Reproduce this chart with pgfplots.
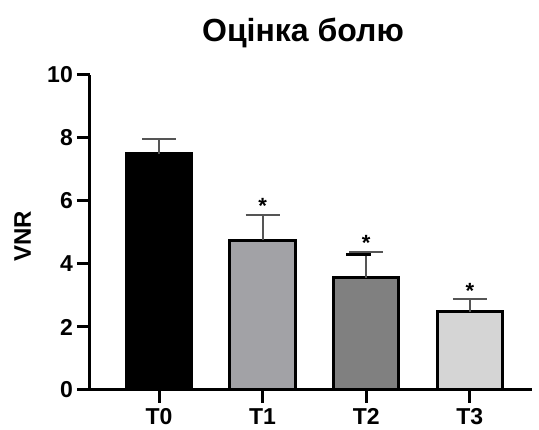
\documentclass[border=0pt]{standalone}
\usepackage{pgfplots}
\pgfplotsset{compat=1.18}
\usepackage{fontspec}
\setmainfont{Liberation Sans}
\definecolor{cT1}{HTML}{A2A2A6}
\definecolor{cT2}{HTML}{808080}
\definecolor{cT3}{HTML}{D5D5D5}
\definecolor{errc}{HTML}{555555}
\begin{document}
\begin{tikzpicture}
\begin{axis}[
  scale only axis, width=442pt, height=315pt,
  xmin=-0.666, xmax=3.6, ymin=0, ymax=10,
  axis x line=bottom, axis y line=left,
  axis line style={-, line width=3pt, black},
  ytick={0,2,4,6,8,10}, xtick={0,1,2,3}, xticklabels={T0,T1,T2,T3},
  tick align=outside, major tick length=13pt,
  tick style={line width=3pt, black},
  /pgf/number format/assume math mode=true,
  tick label style={font=\bfseries\fontsize{23}{23}\selectfont, inner sep=0pt},
  xticklabel style={yshift=-5pt},
  yticklabel style={xshift=-4pt},
  clip=false,
  every axis plot/.append style={bar shift=0pt, bar width=0.63},
  error bars/y dir=plus, error bars/y explicit,
  error bars/error bar style={line width=2pt, errc},
  error bars/error mark options={line width=2pt, errc, mark size=17pt, rotate=90},
]
\addplot[ybar, fill=black, draw=black, line width=3pt] coordinates {(0,7.5) +- (0,0.47)};
\addplot[ybar, fill=cT1, draw=black, line width=3pt] coordinates {(1,4.76) +- (0,0.79)};
\addplot[ybar, fill=cT2, draw=black, line width=3pt] coordinates {(2,3.57) +- (0,0.80)};
\addplot[ybar, fill=cT3, draw=black, line width=3pt] coordinates {(3,2.49) +- (0,0.40)};
\addplot[black, line width=2.5pt, forget plot] coordinates {(1.807,4.295) (2.048,4.295)};
\node[anchor=base, font=\bfseries\fontsize{22}{22}\selectfont] at (axis cs:1,5.6) {*};
\node[anchor=base, font=\bfseries\fontsize{22}{22}\selectfont] at (axis cs:2,4.42) {*};
\node[anchor=base, font=\bfseries\fontsize{22}{22}\selectfont] at (axis cs:3,2.92) {*};
\end{axis}
\node[anchor=base, font=\bfseries\fontsize{32}{32}\selectfont] at ([xshift=-8pt,yshift=33pt]current axis.north) {Оцінка болю};
\node[rotate=90, font=\bfseries\fontsize{24}{24}\selectfont] at ([xshift=-67.5pt,yshift=-4pt]current axis.west) {VNR};
\pgfresetboundingbox
\useasboundingbox ([xshift=-90pt,yshift=-40pt]current axis.south west) rectangle ([xshift=7pt,yshift=75pt]current axis.north east);
\end{tikzpicture}
\end{document}
